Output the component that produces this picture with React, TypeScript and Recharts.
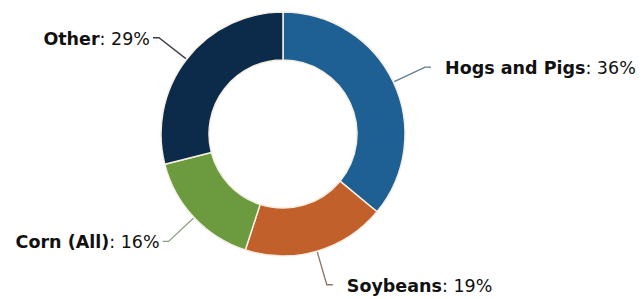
import React from "react";
import { PieChart, Pie, Cell } from "recharts";

const categories = ["Hogs and Pigs", "Soybeans", "Corn (All)", "Other"];
const shares = [36, 19, 16, 29];
const sliceColors = ["#1e5f94", "#c1602b", "#6b9a3f", "#0c2b4b"];
const lineColors = ["#5f7d98", "#8c7466", "#8fa084", "#3a3f46"];

const data = categories.map((name, i) => ({ name, value: shares[i] }));

const RAD = Math.PI / 180;

const renderLabel = (props: any) => {
  const { cx, cy, midAngle, outerRadius, index, name, value } = props;
  const cos = Math.cos(-midAngle * RAD);
  const sin = Math.sin(-midAngle * RAD);
  const sx = cx + (outerRadius + 1) * cos;
  const sy = cy + (outerRadius + 1) * sin;
  const mx = cx + (outerRadius + 35) * cos;
  const my = cy + (outerRadius + 35) * sin;
  const right = cos >= 0;
  const ex = mx + (right ? 6 : -6);
  const ey = my;
  const tx = ex + (right ? 14 : -3);
  return (
    <g>
      <polyline
        points={`${sx},${sy} ${mx},${my} ${ex},${ey}`}
        fill="none"
        stroke={lineColors[index]}
        strokeWidth={1.3}
      />
      <text
        x={tx}
        y={ey + 7}
        textAnchor={right ? "start" : "end"}
        fontFamily="DejaVu Sans, Verdana, sans-serif"
        fontSize={17.5}
        fill="#111"
      >
        <tspan fontWeight="bold">{name}</tspan>
        <tspan>{`: ${value}%`}</tspan>
      </text>
    </g>
  );
};

export default function App() {
  return (
    <div style={{ position: "fixed", left: 0, top: 0, width: 644, height: 299, background: "#fff" }}>
      <PieChart width={644} height={299} margin={{ top: 0, right: 0, bottom: 0, left: 0 }}>
        <Pie
          data={data}
          dataKey="value"
          nameKey="name"
          cx={283}
          cy={134}
          innerRadius={74}
          outerRadius={122}
          startAngle={90}
          endAngle={-270}
          stroke="#f4efe2"
          strokeWidth={1.5}
          label={renderLabel}
          labelLine={false}
          isAnimationActive={false}
        >
          {data.map((d, i) => (
            <Cell key={d.name} fill={sliceColors[i]} />
          ))}
        </Pie>
      </PieChart>
    </div>
  );
}
